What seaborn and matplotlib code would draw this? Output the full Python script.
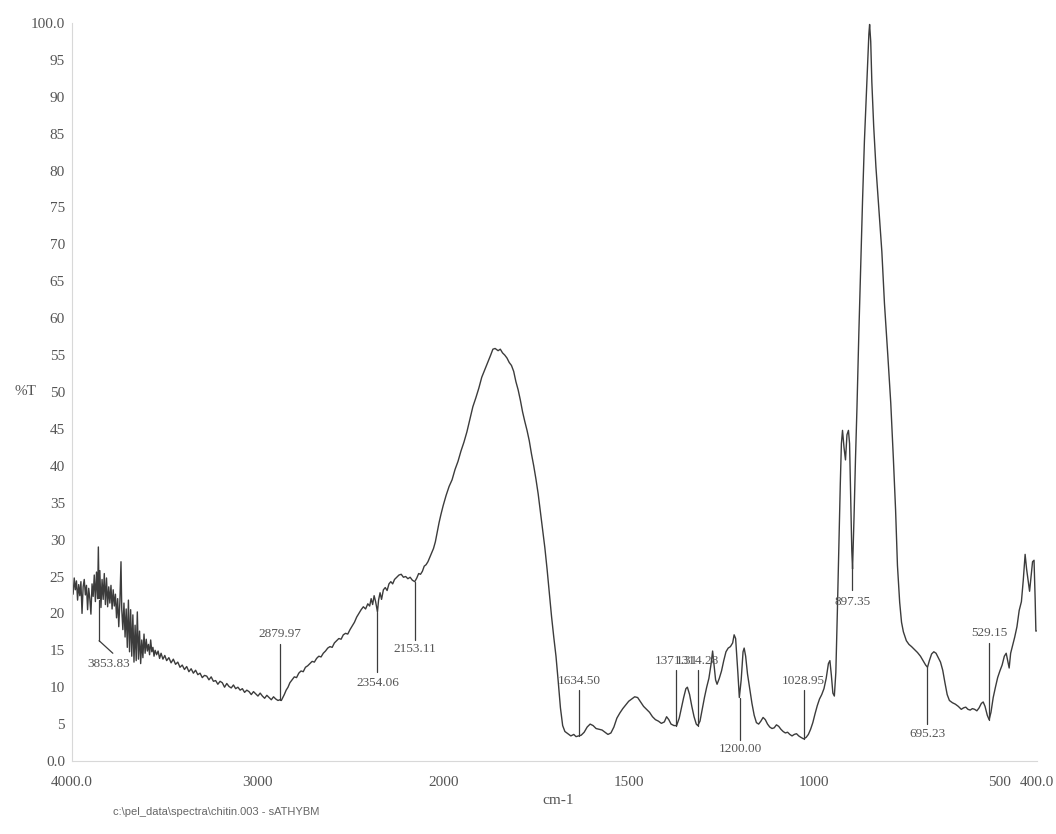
"""
FT-IR spectrum of chitin (%T vs wavenumber), redrawn from a scanned printout.
The x axis has the usual instrument scale change at 2000 cm-1
(4000-2000 drawn at half the scale of 2000-400).
"""
import numpy as np
import pandas as pd

import matplotlib
matplotlib.use("Agg")
import matplotlib.pyplot as plt
import seaborn as sns

# spectrum, high to low wavenumber
wavenumber = [
    4000, 3994, 3988, 3982, 3976, 3970, 3964, 3958, 3952, 3946, 3940, 3934, 3928, 3922, 3916, 3910,
    3904, 3898, 3892, 3886, 3880, 3874, 3868, 3862, 3858, 3854, 3850, 3844, 3838, 3832, 3826, 3820,
    3814, 3808, 3802, 3796, 3790, 3784, 3778, 3772, 3766, 3760, 3754, 3748, 3742, 3736, 3732, 3726,
    3720, 3714, 3708, 3702, 3696, 3690, 3684, 3678, 3672, 3666, 3660, 3654, 3648, 3642, 3636, 3630,
    3624, 3618, 3612, 3606, 3600, 3594, 3588, 3582, 3576, 3570, 3564, 3558, 3552, 3544, 3536, 3528,
    3520, 3510, 3500,
    3490, 3478, 3466, 3454, 3442, 3430, 3418, 3406, 3394, 3382, 3370, 3358, 3346, 3334, 3322, 3310,
    3298, 3286, 3274, 3262, 3250, 3238, 3226, 3214, 3202, 3190, 3178, 3166, 3154, 3142, 3130, 3118,
    3106, 3094, 3082, 3070, 3058, 3046, 3034, 3022, 3010, 2998, 2986, 2974, 2962, 2950, 2938, 2926,
    2914, 2902, 2890, 2880, 2872, 2864, 2856, 2846, 2836, 2826, 2814, 2802, 2790, 2778, 2766, 2754,
    2742, 2730, 2718, 2706, 2694, 2682, 2670, 2658, 2646, 2634, 2622, 2610, 2598, 2586, 2574, 2562,
    2550, 2538, 2526, 2514, 2502, 2490, 2478, 2466, 2454, 2442, 2430, 2418, 2406, 2396, 2388, 2380,
    2372, 2364, 2358, 2354, 2348, 2340, 2332, 2322, 2312, 2302, 2292, 2282, 2272, 2262, 2250, 2238,
    2226, 2214, 2202, 2190, 2178, 2166, 2153, 2142, 2132, 2122, 2112, 2102, 2092, 2082, 2072, 2062,
    2052, 2042, 2032, 2022, 2012, 2000,
    1992, 1984, 1976, 1968, 1960, 1952, 1944, 1936, 1928, 1920, 1912, 1904, 1896, 1888, 1880, 1872,
    1866, 1860, 1852, 1846, 1840, 1834, 1828, 1822, 1816, 1810, 1804, 1798, 1792, 1786, 1780, 1774,
    1768, 1762, 1756, 1750, 1744, 1738, 1732, 1726, 1720, 1714, 1708, 1702, 1696, 1690, 1684, 1678,
    1672, 1664, 1656, 1648, 1642, 1635, 1628, 1620, 1612, 1604, 1596, 1588, 1580, 1572, 1564, 1556,
    1548, 1540, 1532, 1524, 1516, 1508, 1500, 1492, 1484, 1476, 1468, 1460, 1452, 1444, 1436, 1428,
    1420, 1412, 1404, 1398, 1392, 1386, 1378, 1371, 1364, 1358, 1352, 1346, 1342, 1336, 1330, 1324,
    1318, 1314, 1308, 1302, 1296, 1290, 1284, 1278, 1274, 1270, 1266, 1262, 1256, 1250, 1244, 1238,
    1232, 1226, 1220, 1216, 1212, 1206, 1202, 1197, 1192, 1189, 1185, 1180, 1174, 1168, 1162, 1156,
    1150, 1144, 1138, 1132, 1126, 1120, 1114, 1108, 1102, 1096, 1090, 1084, 1078, 1072, 1066, 1060,
    1054, 1048, 1042, 1036, 1029, 1022, 1016, 1010, 1004, 998, 992, 986, 980, 974, 968, 962,
    958, 954, 950, 946, 942, 938, 934, 930, 927, 924, 920, 916, 912, 908, 905, 902,
    899, 897, 893, 889, 885, 880, 875, 870, 865, 860, 856, 853, 851, 848, 845, 840,
    834, 827, 818, 811, 802, 794, 787, 781, 776, 770, 765, 760, 752, 745, 738, 730,
    722, 714, 706, 700, 695, 690, 684, 678, 672, 666, 660, 654, 648, 642, 636, 628,
    620, 612, 604, 598, 592, 586, 580, 574, 568, 562, 556, 550, 545, 540, 534, 529,
    524, 518, 512, 506, 500, 494, 488, 483, 479, 475, 471, 466, 460, 454, 448, 442,
    437, 432, 428, 424, 420, 416, 412, 408, 405, 403, 402,
]
transmittance = [
    23.5, 22.6, 24.8, 23.2, 24.4, 21.8, 23.9, 22.4, 24.3, 20.0, 23.6, 24.6, 22.5, 23.8, 20.5, 23.4,
    22.0, 19.9, 24.0, 22.3, 25.2, 21.6, 25.6, 22.0, 29.0, 22.0, 25.8, 20.8, 24.6, 21.9, 25.4, 21.2,
    24.8, 20.9, 23.6, 21.4, 23.8, 20.6, 23.2, 21.0, 22.6, 19.4, 22.0, 18.2, 21.6, 27.0, 20.6, 17.8,
    21.4, 16.8, 20.6, 15.4, 21.8, 14.8, 20.5, 14.2, 19.8, 13.4, 18.4, 13.6, 20.2, 13.8, 17.6, 13.2,
    16.4, 14.0, 17.2, 14.6, 16.5, 14.9, 15.8, 14.4, 16.4, 14.8, 15.4, 14.2, 15.0, 14.4, 14.9, 13.9,
    14.6, 13.8, 14.3,
    13.6, 14.0, 13.3, 13.8, 13.1, 13.4, 12.7, 13.0, 12.4, 12.8, 12.1, 12.5, 11.9, 12.3, 11.7, 11.9,
    11.3, 11.6, 11.5, 11.0, 11.4, 10.8, 10.9, 10.4, 10.8, 10.6, 10.0, 10.5, 10.1, 9.9, 10.3, 9.8,
    10.0, 9.6, 9.8, 9.3, 9.6, 9.4, 9.0, 9.4, 9.1, 8.8, 9.2, 8.8, 8.5, 8.9, 8.6, 8.3,
    8.7, 8.4, 8.2, 8.3, 8.2, 8.6, 9.0, 9.6, 10.0, 10.6, 11.0, 11.4, 11.3, 11.9, 12.2, 12.1,
    12.7, 12.9, 13.2, 13.5, 13.4, 13.9, 14.2, 14.1, 14.6, 14.9, 15.3, 15.5, 15.4, 16.0, 16.3, 16.6,
    16.5, 17.1, 17.3, 17.2, 17.8, 18.3, 18.8, 19.5, 20.0, 20.5, 20.9, 20.6, 21.3, 21.0, 22.0, 21.2,
    22.4, 21.6, 20.8, 20.2, 21.8, 22.8, 21.9, 23.2, 23.5, 23.1, 24.0, 24.3, 24.0, 24.6, 24.9, 25.2,
    25.3, 24.9, 25.0, 24.7, 24.9, 24.5, 24.3, 24.8, 25.4, 25.3, 25.7, 26.4, 26.6, 27.0, 27.6, 28.2,
    28.8, 29.7, 31.0, 32.3, 33.4, 34.6,
    36.0, 37.2, 38.1, 39.5, 40.6, 42.0, 43.2, 44.6, 46.3, 48.0, 49.2, 50.5, 52.0, 53.0, 54.0, 55.0,
    55.8, 55.9, 55.6, 55.8, 55.3, 55.0, 54.6, 54.0, 53.6, 52.8, 51.4, 50.3, 48.9, 47.3, 46.0, 44.8,
    43.4, 41.6, 40.0, 38.2, 36.2, 33.8, 31.5, 28.9, 26.0, 22.8, 19.6, 16.8, 14.2, 10.8, 7.2, 4.8,
    4.0, 3.7, 3.4, 3.6, 3.3, 3.4, 3.5, 3.9, 4.6, 5.0, 4.8, 4.4, 4.3, 4.2, 3.9, 3.6,
    3.8, 4.6, 5.8, 6.5, 7.1, 7.6, 8.1, 8.4, 8.7, 8.6, 8.0, 7.4, 7.0, 6.6, 6.0, 5.6,
    5.4, 5.1, 5.3, 6.0, 5.6, 5.0, 4.8, 4.8, 5.8, 7.2, 8.6, 9.8, 10.0, 9.0, 7.4, 6.0,
    5.0, 4.8, 5.4, 7.0, 8.6, 10.0, 11.2, 13.2, 14.9, 13.0, 11.0, 10.4, 11.2, 12.2, 13.6, 14.8,
    15.3, 15.5, 16.0, 17.1, 16.6, 12.0, 8.6, 11.0, 14.8, 15.3, 14.2, 11.8, 9.8, 7.8, 6.2, 5.2,
    5.0, 5.4, 5.9, 5.6, 5.0, 4.6, 4.4, 4.5, 4.9, 4.7, 4.3, 4.0, 3.8, 3.9, 3.6, 3.4,
    3.6, 3.7, 3.4, 3.2, 3.0, 3.2, 3.6, 4.3, 5.2, 6.4, 7.5, 8.4, 9.0, 9.8, 11.2, 13.2,
    13.6, 11.6, 9.2, 8.8, 12.0, 20.0, 29.0, 37.5, 43.0, 44.8, 42.5, 40.8, 44.2, 44.8, 43.0, 36.0,
    28.5, 26.0, 33.0, 41.0, 48.0, 58.0, 67.0, 76.0, 84.0, 90.0, 95.0, 98.5, 99.8, 97.5, 92.0, 86.0,
    80.5, 75.5, 69.0, 62.0, 55.0, 48.5, 41.0, 34.0, 26.5, 21.5, 18.8, 17.5, 16.3, 15.8, 15.5, 15.1,
    14.7, 14.2, 13.5, 13.0, 12.7, 13.6, 14.5, 14.8, 14.6, 14.0, 13.4, 12.3, 10.6, 9.0, 8.2, 7.9,
    7.7, 7.4, 7.0, 7.2, 7.3, 7.0, 6.9, 7.1, 7.0, 6.8, 7.2, 7.8, 8.0, 7.4, 6.2, 5.6,
    6.6, 8.6, 10.0, 11.3, 12.2, 13.0, 14.2, 14.6, 13.6, 12.6, 14.6, 15.6, 16.8, 18.2, 20.4, 21.6,
    24.5, 28.0, 26.0, 24.5, 23.0, 25.0, 27.0, 27.2, 22.0, 17.6, 17.6,
]

# peak picks printed on the chart
peak_wn = [3853.83, 2879.97, 2354.06, 2153.11, 1634.50, 1371.31,
           1314.28, 1200.00, 1028.95, 897.35, 695.23, 529.15]
leader_from = [21.8, 8.3, 20.2, 24.3, 3.4, 4.8, 4.8, 8.6, 3.0, 26.0, 12.7, 5.6]
leader_to = [16.3, 15.8, 12.0, 16.4, 9.6, 12.3, 12.3, 2.8, 9.6, 23.2, 5.0, 16.0]
label_wn = [3800, 2879.97, 2354.06, 2153.11, 1634.50, 1371.31,
            1314.28, 1200.00, 1028.95, 897.35, 695.23, 529.15]
label_t = [13.2, 17.2, 10.6, 15.2, 10.9, 13.6, 13.6, 1.6, 10.9, 21.6, 3.7, 17.3]
kink_wn, kink_t = 3780, 14.6   # the 3853.83 leader bends towards its label

x_ticks = [4000, 3000, 2000, 1500, 1000, 500, 400]
x_ticklabels = ["4000.0", "3000", "2000", "1500", "1000", "500", "400.0"]
y_ticks = list(range(0, 101, 5))
y_ticklabels = ["0.0"] + [str(v) for v in range(5, 100, 5)] + ["100.0"]

FILE_NOTE = "c:\\pel_data\\spectra\\chitin.003 - sATHYBM"

INK = "#3c3c3c"
TEXT = "#555555"


def ir_forward(wn):
    wn = np.asarray(wn, dtype=float)
    return np.where(wn >= 2000, 2000 + (wn - 2000) / 2.0, wn)


def ir_inverse(u):
    u = np.asarray(u, dtype=float)
    return np.where(u >= 2000, 2000 + (u - 2000) * 2.0, u)


def main():
    sns.set_theme(style="white")
    plt.rcParams["font.family"] = ["Liberation Serif", "DejaVu Serif"]

    df = pd.DataFrame({"cm-1": wavenumber, "%T": transmittance})

    fig = plt.figure(figsize=(10.56, 8.34), dpi=100)
    ax = fig.add_axes([72 / 1056, 73 / 834, 965 / 1056, 738 / 834])
    sns.lineplot(data=df, x="cm-1", y="%T", sort=False, estimator=None,
                 color=INK, linewidth=1.0, ax=ax)

    ax.set_xscale("function", functions=(ir_forward, ir_inverse))
    ax.set_xlim(4000, 400)
    ax.set_ylim(0, 100)

    # peak labels with their leader lines (1371.31 / 1314.28 overlap on the original too)
    for wn, y0, y1, lx, ly in zip(peak_wn, leader_from, leader_to, label_wn, label_t):
        ax.plot([wn, wn], [y0, y1], color=INK, lw=0.9)
        ax.text(lx, ly, f"{wn:.2f}", ha="center", va="center",
                fontsize=9.5, color=TEXT)
    ax.plot([peak_wn[0], kink_wn], [leader_to[0], kink_t], color=INK, lw=0.9)

    ax.set_xticks(x_ticks)
    ax.set_xticklabels(x_ticklabels)
    ax.set_yticks(y_ticks)
    ax.set_yticklabels(y_ticklabels)
    ax.xaxis.set_minor_locator(matplotlib.ticker.NullLocator())
    ax.tick_params(axis="both", labelsize=11, labelcolor=TEXT, colors="#cccccc",
                   length=2, width=0.6, direction="out")
    ax.tick_params(axis="x", pad=9)
    ax.tick_params(axis="y", pad=3)

    ax.set_xlabel("")
    ax.set_ylabel("")
    sns.despine(ax=ax)
    for side in ("left", "bottom"):
        ax.spines[side].set_color("#d8d8d8")
        ax.spines[side].set_linewidth(0.8)
    ax.grid(False)

    fig.text(25 / 1056, 1 - 392 / 834, "%T", ha="center", va="center",
             fontsize=11, color=TEXT)
    fig.text(558 / 1056, 1 - 800 / 834, "cm-1", ha="center", va="center",
             fontsize=11, color=TEXT)
    fig.text(113 / 1056, 1 - 812 / 834, FILE_NOTE, ha="left", va="center",
             fontsize=8, color="#666666", family=["Liberation Sans", "DejaVu Sans"])

    fig.savefig("out.png", dpi=100, facecolor="white")
    plt.close(fig)


if __name__ == "__main__":
    main()
